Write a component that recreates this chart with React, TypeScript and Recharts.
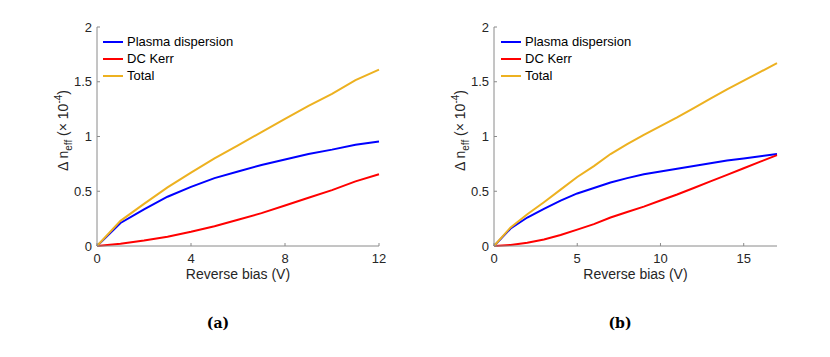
import { LineChart, Line, XAxis, YAxis, Legend } from 'recharts';

// panel (a): 0..12 V
const biasA = [0, 1, 2, 3, 4, 5, 6, 7, 8, 9, 10, 11, 12];
const plasmaA = [0, 0.21, 0.335, 0.45, 0.54, 0.62, 0.68, 0.74, 0.79, 0.84, 0.88, 0.925, 0.955];
const kerrA = [0, 0.02, 0.05, 0.085, 0.13, 0.18, 0.24, 0.3, 0.37, 0.44, 0.51, 0.59, 0.655];
const totalA = [0, 0.23, 0.385, 0.535, 0.67, 0.8, 0.92, 1.04, 1.16, 1.28, 1.39, 1.515, 1.61];

// panel (b): 0..17 V
const biasB = [0, 1, 2, 3, 4, 5, 6, 7, 8, 9, 10, 11, 12, 13, 14, 15, 16, 17];
const plasmaB = [0, 0.16, 0.26, 0.34, 0.415, 0.48, 0.53, 0.58, 0.62, 0.655, 0.68, 0.705, 0.73, 0.755, 0.78, 0.8, 0.82, 0.84];
const kerrB = [0, 0.01, 0.03, 0.06, 0.1, 0.15, 0.2, 0.26, 0.31, 0.36, 0.415, 0.47, 0.53, 0.59, 0.65, 0.71, 0.77, 0.83];
const totalB = [0, 0.17, 0.29, 0.4, 0.515, 0.63, 0.73, 0.84, 0.93, 1.015, 1.095, 1.175, 1.26, 1.345, 1.43, 1.51, 1.59, 1.67];

const seriesNames = ['Plasma dispersion', 'DC Kerr', 'Total'];
const yTicks = [0, 0.5, 1, 1.5, 2];
const xTicksA = [0, 4, 8, 12];
const xTicksB = [0, 5, 10, 15];

const FONT = '"Liberation Sans", Arial, sans-serif';
const TXT = '#262626';
const AXIS = '#8a8a8a';
const BOX = '#b8b8b8';

const toRows = (x: number[], p: number[], k: number[], t: number[]) =>
    x.map((v, i) => ({ v, plasma: p[i], kerr: k[i], total: t[i] }));

const dataA = toRows(biasA, plasmaA, kerrA, totalA);
const dataB = toRows(biasB, plasmaB, kerrB, totalB);

function YLabel({ viewBox }: any) {
    const cx = viewBox.x + 11;
    const cy = viewBox.y + viewBox.height / 2 - 6;
    return (
        <text
            x={cx}
            y={cy}
            transform={`rotate(-90 ${cx} ${cy})`}
            textAnchor="middle"
            fill={TXT}
            fontFamily={FONT}
            fontSize={14}
        >
            <tspan>Δ n</tspan>
            <tspan fontSize={10} dy={4}>eff</tspan>
            <tspan dy={-4}> (× 10</tspan>
            <tspan fontSize={10} dy={-6}>-4</tspan>
            <tspan dy={6}>)</tspan>
        </text>
    );
}

function LegendBox({ payload }: any) {
    const items = [...(payload || [])].sort(
        (a: any, b: any) => seriesNames.indexOf(a.value) - seriesNames.indexOf(b.value)
    );
    return (
        <div style={{ fontFamily: FONT, fontSize: 13, color: '#000' }}>
            {items.map((item: any) => (
                <div key={item.value} style={{ display: 'flex', alignItems: 'center', height: 17 }}>
                    <span style={{ width: 20, height: 2, background: item.color, marginRight: 4 }} />
                    <span>{item.value}</span>
                </div>
            ))}
        </div>
    );
}

function Panel({ data, xMax, xTicks, marginLeft, marginRight, legendLeft }: any) {
    const tickStyle = { fill: TXT, fontSize: 13, fontFamily: FONT };
    return (
        <LineChart
            width={400}
            height={290}
            data={data}
            margin={{ top: 27, right: marginRight, left: marginLeft, bottom: 14 }}
        >
            <XAxis
                dataKey="v"
                type="number"
                domain={[0, xMax]}
                ticks={xTicks}
                stroke={AXIS}
                tickSize={-3}
                tickMargin={11}
                tick={tickStyle}
                height={30}
                label={{ value: 'Reverse bias (V)', position: 'insideTop', offset: 23, fill: TXT, fontSize: 14, fontFamily: FONT }}
            />
            <XAxis
                xAxisId="top"
                orientation="top"
                dataKey="v"
                type="number"
                domain={[0, xMax]}
                ticks={xTicks}
                stroke={BOX}
                tickSize={-3}
                tick={false}
                height={0}
            />
            <YAxis
                type="number"
                domain={[0, 2]}
                ticks={yTicks}
                stroke={AXIS}
                tickSize={-3}
                tickMargin={8}
                tick={tickStyle}
                width={40}
                label={<YLabel />}
            />
            <YAxis
                yAxisId="right"
                orientation="right"
                type="number"
                domain={[0, 2]}
                ticks={yTicks}
                stroke={BOX}
                tickSize={-3}
                tick={false}
                width={0}
            />
            <Legend
                layout="horizontal"
                verticalAlign="middle"
                align="center"
                content={<LegendBox />}
                wrapperStyle={{ left: legendLeft, top: 33, width: 'auto', height: 'auto' }}
            />
            <Line name="Plasma dispersion" dataKey="plasma" type="linear" stroke="#0000ff" strokeWidth={2} dot={false} isAnimationActive={false} />
            <Line name="DC Kerr" dataKey="kerr" type="linear" stroke="#ff0000" strokeWidth={2} dot={false} isAnimationActive={false} />
            <Line name="Total" dataKey="total" type="linear" stroke="#edb120" strokeWidth={2} dot={false} isAnimationActive={false} />
        </LineChart>
    );
}

const capStyle: any = {
    position: 'absolute',
    top: 315,
    fontFamily: '"DejaVu Serif", serif',
    fontWeight: 'bold',
    fontSize: 14,
    color: '#000',
    transform: 'translateX(-50%)',
};

export default function App() {
    return (
        <div style={{ position: 'absolute', left: 0, top: 0, width: 830, height: 357, background: '#fff' }}>
            <div style={{ position: 'absolute', left: 0, top: 0 }}>
                <Panel data={dataA} xMax={12} xTicks={xTicksA} marginLeft={57} marginRight={21} legendLeft={103} />
            </div>
            <div style={{ position: 'absolute', left: 430, top: 0 }}>
                <Panel data={dataB} xMax={17} xTicks={xTicksB} marginLeft={24} marginRight={53} legendLeft={71} />
            </div>
            <div style={{ ...capStyle, left: 218 }}>(a)</div>
            <div style={{ ...capStyle, left: 620 }}>(b)</div>
        </div>
    );
}
